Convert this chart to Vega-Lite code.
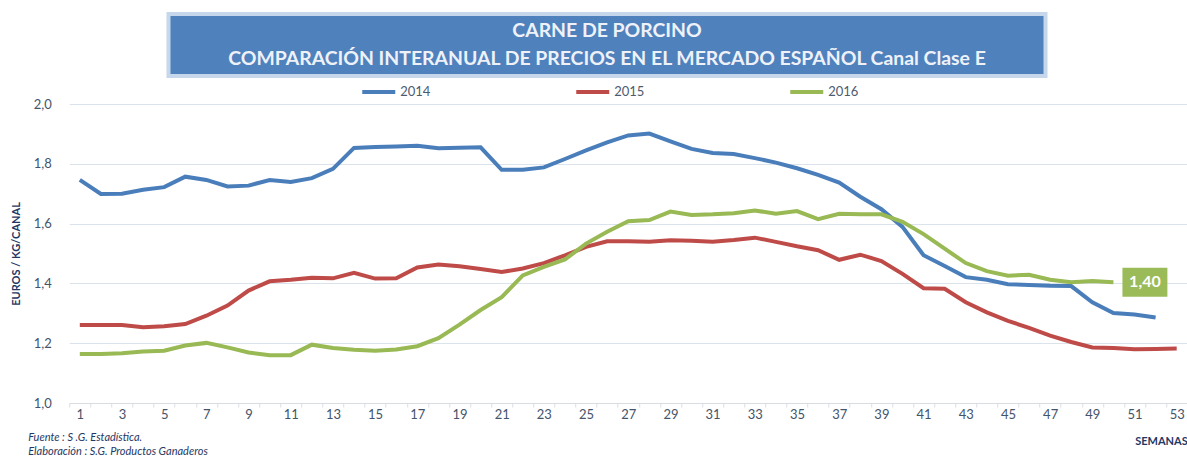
{
  "$schema": "https://vega.github.io/schema/vega-lite/v6.json",
  "padding": {"left": 10, "top": 12, "right": 0, "bottom": 0},
  "background": "white",
  "spacing": 7,
  "center": true,
  "resolve": {"legend": {"color": "independent"}},
  "config": {"view": {"stroke": null}, "font": "Lato"},
  "datasets": {
    "precios": [
      {"week": 1, "2014": 1.746, "2015": 1.261, "2016": 1.164},
      {"week": 2, "2014": 1.699, "2015": 1.261, "2016": 1.164},
      {"week": 3, "2014": 1.700, "2015": 1.261, "2016": 1.166},
      {"week": 4, "2014": 1.713, "2015": 1.253, "2016": 1.172},
      {"week": 5, "2014": 1.722, "2015": 1.257, "2016": 1.175},
      {"week": 6, "2014": 1.757, "2015": 1.264, "2016": 1.192},
      {"week": 7, "2014": 1.746, "2015": 1.292, "2016": 1.201},
      {"week": 8, "2014": 1.724, "2015": 1.326, "2016": 1.186},
      {"week": 9, "2014": 1.727, "2015": 1.376, "2016": 1.169},
      {"week": 10, "2014": 1.746, "2015": 1.407, "2016": 1.160},
      {"week": 11, "2014": 1.739, "2015": 1.412, "2016": 1.160},
      {"week": 12, "2014": 1.752, "2015": 1.419, "2016": 1.195},
      {"week": 13, "2014": 1.783, "2015": 1.417, "2016": 1.184},
      {"week": 14, "2014": 1.853, "2015": 1.435, "2016": 1.178},
      {"week": 15, "2014": 1.856, "2015": 1.416, "2016": 1.175},
      {"week": 16, "2014": 1.858, "2015": 1.417, "2016": 1.179},
      {"week": 17, "2014": 1.860, "2015": 1.453, "2016": 1.190},
      {"week": 18, "2014": 1.852, "2015": 1.463, "2016": 1.217},
      {"week": 19, "2014": 1.854, "2015": 1.457, "2016": 1.262},
      {"week": 20, "2014": 1.855, "2015": 1.448, "2016": 1.311},
      {"week": 21, "2014": 1.780, "2015": 1.438, "2016": 1.354},
      {"week": 22, "2014": 1.780, "2015": 1.450, "2016": 1.427},
      {"week": 23, "2014": 1.788, "2015": 1.468, "2016": 1.455},
      {"week": 24, "2014": 1.816, "2015": 1.494, "2016": 1.480},
      {"week": 25, "2014": 1.845, "2015": 1.522, "2016": 1.533},
      {"week": 26, "2014": 1.872, "2015": 1.541, "2016": 1.573},
      {"week": 27, "2014": 1.895, "2015": 1.541, "2016": 1.608},
      {"week": 28, "2014": 1.901, "2015": 1.539, "2016": 1.612},
      {"week": 29, "2014": 1.875, "2015": 1.544, "2016": 1.640},
      {"week": 30, "2014": 1.850, "2015": 1.543, "2016": 1.629},
      {"week": 31, "2014": 1.836, "2015": 1.539, "2016": 1.631},
      {"week": 32, "2014": 1.833, "2015": 1.545, "2016": 1.635},
      {"week": 33, "2014": 1.819, "2015": 1.553, "2016": 1.644},
      {"week": 34, "2014": 1.804, "2015": 1.539, "2016": 1.633},
      {"week": 35, "2014": 1.785, "2015": 1.524, "2016": 1.642},
      {"week": 36, "2014": 1.763, "2015": 1.511, "2016": 1.615},
      {"week": 37, "2014": 1.737, "2015": 1.479, "2016": 1.633},
      {"week": 38, "2014": 1.690, "2015": 1.496, "2016": 1.631},
      {"week": 39, "2014": 1.648, "2015": 1.475, "2016": 1.631},
      {"week": 40, "2014": 1.589, "2015": 1.432, "2016": 1.606},
      {"week": 41, "2014": 1.494, "2015": 1.384, "2016": 1.565},
      {"week": 42, "2014": 1.458, "2015": 1.382, "2016": 1.516},
      {"week": 43, "2014": 1.421, "2015": 1.337, "2016": 1.468},
      {"week": 44, "2014": 1.412, "2015": 1.303, "2016": 1.441},
      {"week": 45, "2014": 1.397, "2015": 1.275, "2016": 1.426},
      {"week": 46, "2014": 1.395, "2015": 1.251, "2016": 1.429},
      {"week": 47, "2014": 1.392, "2015": 1.225, "2016": 1.412},
      {"week": 48, "2014": 1.391, "2015": 1.204, "2016": 1.404},
      {"week": 49, "2014": 1.337, "2015": 1.186, "2016": 1.408},
      {"week": 50, "2014": 1.301, "2015": 1.184, "2016": 1.404},
      {"week": 51, "2014": 1.296, "2015": 1.180, "2016": null},
      {"week": 52, "2014": 1.286, "2015": 1.181, "2016": null},
      {"week": 53, "2014": null, "2015": 1.182, "2016": null}
    ],
    "titulo": [
      {"line": 1, "text": "CARNE DE PORCINO"},
      {"line": 2, "text": "COMPARACIÓN INTERANUAL DE PRECIOS EN EL MERCADO ESPAÑOL Canal Clase E"}
    ],
    "etiqueta": [
      {"week": 50, "year": "2016", "price": 1.404, "label": "1,40"}
    ]
  },
  "vconcat": [
    {
      "width": 877,
      "height": 62,
      "view": {"fill": "#4f81bd", "stroke": "#c6d7ec", "strokeWidth": 4},
      "data": {"name": "titulo"},
      "mark": {"type": "text", "fontWeight": "bold", "fontSize": 19.4, "color": "#eef2f8", "baseline": "middle", "align": "center"},
      "encoding": {
        "y": {"field": "line", "type": "ordinal", "scale": {"type": "point", "padding": 0.6},
              "axis": {"orient": "right", "title": null, "labels": false, "ticks": false, "domain": false, "grid": false, "minExtent": 41, "maxExtent": 41}},
        "text": {"field": "text"}
      }
    },
    {
      "width": 1118,
      "height": 299,
      "title": {
        "text": ["Fuente :  S .G. Estadística.", "Elaboración : S.G. Productos Ganaderos"],
        "orient": "bottom", "anchor": "start", "frame": "bounds",
        "fontSize": 11, "fontStyle": "italic", "fontWeight": "normal",
        "color": "#1f3864", "lineHeight": 14, "offset": -14, "dx": 18
      },
      "layer": [
        {
          "data": {"name": "precios"},
          "transform": [
            {"fold": ["2014", "2015", "2016"], "as": ["year", "price"]},
            {"filter": "isValid(datum.price)"}
          ],
          "mark": {"type": "line", "strokeWidth": 4},
          "encoding": {
            "x": {"field": "week", "type": "ordinal",
                  "scale": {"type": "band", "paddingInner": 0, "paddingOuter": 0},
                  "axis": {"title": "SEMANAS", "titleAnchor": "end", "titleFontWeight": "bold", "titleFontSize": 11,
                           "titleColor": "#1f3864", "titlePadding": 14, "tickBand": "extent", "labelAngle": 0,
                           "labelExpr": "datum.value % 2 == 1 ? datum.label : ''", "labelOverlap": false,
                           "labelFontSize": 13, "labelColor": "#44546a", "labelPadding": 1, "tickSize": 4,
                           "tickColor": "#d9dde3", "domainColor": "#d9dde3", "grid": false}},
            "y": {"field": "price", "type": "quantitative",
                  "scale": {"domain": [1, 2], "nice": false, "zero": false},
                  "axis": {"title": "EUROS / KG/CANAL", "titleFontWeight": "bold", "titleFontSize": 11,
                           "titleColor": "#1f3864", "titlePadding": 12, "values": [1, 1.2, 1.4, 1.6, 1.8, 2],
                           "labelExpr": "replace(format(datum.value, '.1f'), '.', ',')",
                           "labelFontSize": 13, "labelColor": "#44546a", "labelPadding": 18,
                           "ticks": false, "domain": false, "gridColor": "#dbe3ec", "gridWidth": 1}},
            "color": {"field": "year", "type": "nominal",
                      "scale": {"domain": ["2014", "2015", "2016"], "range": ["#4a7ebb", "#be4b48", "#98b954"]},
                      "legend": {"title": null, "orient": "none", "legendX": 291, "legendY": -19,
                                 "direction": "horizontal", "symbolType": "stroke", "symbolSize": 1089,
                                 "symbolStrokeWidth": 4, "labelFontSize": 13, "labelColor": "#4d5b70",
                                 "labelOffset": 3, "columnPadding": 143, "clipHeight": 14, "padding": 0}}
          }
        },
        {
          "data": {"name": "etiqueta"},
          "mark": {"type": "point", "shape": "M-1.55,-1L1.55,-1L1.55,1L-1.55,1Z", "size": 841,
                   "filled": true, "opacity": 1, "color": "#9bbb59", "xOffset": 31.5},
          "encoding": {
            "x": {"field": "week", "type": "ordinal"},
            "y": {"field": "price", "type": "quantitative"}
          }
        },
        {
          "data": {"name": "etiqueta"},
          "mark": {"type": "text", "color": "white", "fontWeight": "bold", "fontSize": 16, "xOffset": 31.5,
                   "baseline": "middle", "align": "center"},
          "encoding": {
            "x": {"field": "week", "type": "ordinal"},
            "y": {"field": "price", "type": "quantitative"},
            "text": {"field": "label"}
          }
        }
      ]
    }
  ]
}
